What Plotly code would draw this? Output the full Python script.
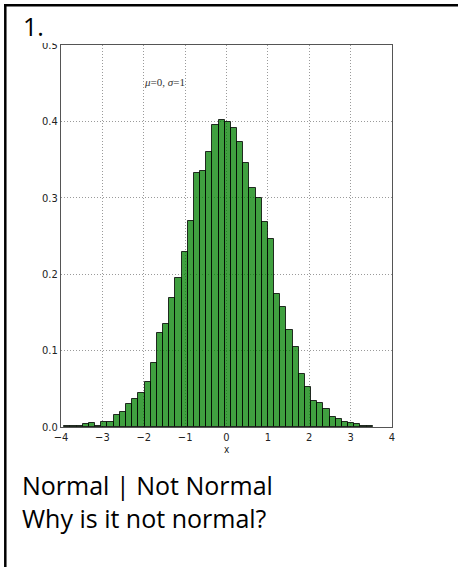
import plotly.graph_objects as go

# ---- data (density, 50 bins) ----
bin_width = 0.1491
bin_centers = [-3.846, -3.696, -3.547, -3.398, -3.249, -3.100, -2.951, -2.802, -2.653, -2.504,
               -2.355, -2.205, -2.056, -1.907, -1.758, -1.609, -1.460, -1.311, -1.162, -1.013,
               -0.864, -0.714, -0.565, -0.416, -0.267, -0.118, 0.031, 0.180, 0.329, 0.478,
               0.628, 0.777, 0.926, 1.075, 1.224, 1.373, 1.522, 1.671, 1.820, 1.969,
               2.119, 2.268, 2.417, 2.566, 2.715, 2.864, 3.013, 3.162, 3.311, 3.460]
densities = [0.0013, 0.0013, 0.0013, 0.0040, 0.0048, 0.0013, 0.0070, 0.0070, 0.0157, 0.0200,
             0.0297, 0.0366, 0.0445, 0.0585, 0.0835, 0.1230, 0.1350, 0.1690, 0.1946, 0.2295,
             0.2700, 0.3325, 0.3350, 0.3600, 0.3957, 0.4014, 0.3997, 0.3920, 0.3735, 0.3460,
             0.3133, 0.2997, 0.2683, 0.2456, 0.1740, 0.1570, 0.1270, 0.1050, 0.0690, 0.0528,
             0.0336, 0.0314, 0.0231, 0.0127, 0.0105, 0.0070, 0.0057, 0.0035, 0.0013, 0.0013]

x_ticks = [-4, -3, -2, -1, 0, 1, 2, 3, 4]
x_tick_labels = ["\u22124", "\u22123", "\u22122", "\u22121", "0", "1", "2", "3", "4"]
y_ticks = [0.0, 0.1, 0.2, 0.3, 0.4, 0.5]
y_tick_labels = ["0.0", "0.1", "0.2", "0.3", "0.4", "0.5"]

W, H = 458, 567
L, R, T, B = 61, 392, 45, 427   # plot area in pixels


def px(x):
    return (x - L) / (R - L)


def py(y):
    return (B - y) / (B - T)


tick_font = dict(family="Liberation Sans Narrow, DejaVu Sans Condensed, DejaVu Sans",
                 size=11, color="#222222")

fig = go.Figure()
fig.add_trace(go.Bar(
    x=bin_centers, y=densities, width=bin_width,
    marker=dict(color="rgba(0,128,0,0.75)",
                line=dict(color="rgba(0,0,0,0.8)", width=1)),
    hoverinfo="x+y", showlegend=False,
))

axis_common = dict(showline=True, mirror=True, linecolor="#555555", linewidth=1.2,
                   showgrid=True, gridcolor="#9a9a9a", griddash="1px,2px", gridwidth=1,
                   zeroline=False, ticks="", tickfont=tick_font)

fig.update_xaxes(range=[-4, 4], tickvals=x_ticks, ticktext=x_tick_labels, **axis_common)
fig.update_yaxes(range=[0, 0.5], tickvals=y_ticks, ticktext=y_tick_labels, **axis_common)

text_font = dict(family="Open Sans, Noto Sans, sans-serif", size=25, color="#000000")

annotations = [
    dict(text="<i>\u03bc</i>=0, <i>\u03c3</i>=1", x=-1.5, y=0.4516, xref="x", yref="y",
         showarrow=False, font=dict(family="Liberation Serif, DejaVu Serif, serif",
                                    size=11, color="#333333")),
    dict(text="x", x=0.5, y=py(449.5), xref="paper", yref="paper", showarrow=False,
         xanchor="center", yanchor="middle", font=dict(family=tick_font["family"], size=10,
                                                       color="#222222")),
    dict(text="1.", x=px(21), y=py(26), xref="paper", yref="paper", showarrow=False,
         xanchor="left", yanchor="middle", font=text_font),
    dict(text="Normal | Not Normal", x=px(20), y=py(485), xref="paper", yref="paper",
         showarrow=False, xanchor="left", yanchor="middle", font=text_font),
    dict(text="Why is it not normal?", x=px(20), y=py(518), xref="paper", yref="paper",
         showarrow=False, xanchor="left", yanchor="middle", font=text_font),
]

shapes = [
    # outer box (top and left edges visible)
    dict(type="line", xref="paper", yref="paper", x0=px(4), x1=px(460), y0=py(5.3), y1=py(5.3),
         line=dict(color="#000000", width=2.5)),
    dict(type="line", xref="paper", yref="paper", x0=px(5.3), x1=px(5.3), y0=py(4), y1=py(570),
         line=dict(color="#000000", width=2.5)),
    # cropped top of the "0.5" label
    dict(type="rect", xref="paper", yref="paper", x0=px(38), x1=px(59.5), y0=py(34), y1=py(43),
         fillcolor="white", line=dict(width=0), layer="above"),
]

fig.update_layout(
    width=W, height=H,
    margin=dict(l=L, r=W - R, t=T, b=H - B, pad=0),
    paper_bgcolor="white", plot_bgcolor="white",
    bargap=0, annotations=annotations, shapes=shapes,
)

fig.write_html("out.html", config={"displayModeBar": False},
               post_script="document.body.style.margin='0';document.body.style.overflow='hidden';")
